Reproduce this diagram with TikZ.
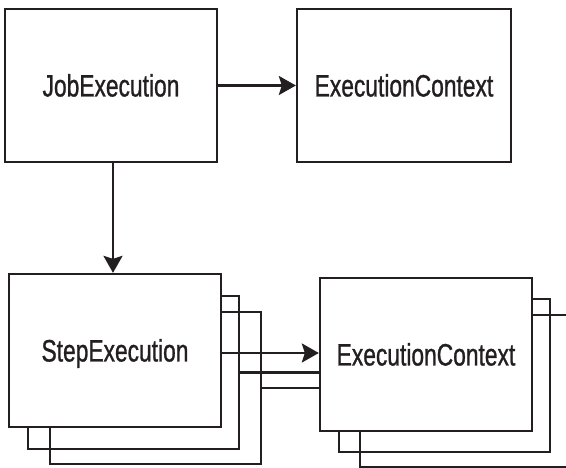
\documentclass[tikz,border=0pt]{standalone}
\usepackage{fontspec}
\setmainfont{Liberation Sans}[FakeStretch=0.735, FakeBold=0.9]
\usetikzlibrary{arrows.meta}
\definecolor{ink}{HTML}{231F20}
\tikzset{
  x=1pt, y=-1pt,
  box/.style={draw=ink, line width=2.3pt, fill=white, inner sep=0pt,
    text=ink, font=\fontsize{31}{35}\selectfont,
    text height=22pt, text depth=0pt, minimum height=153pt},
  backbox/.style={draw=ink, line width=2.3pt, inner sep=0pt, minimum height=153pt},
  link/.style={draw=ink, line width=2.3pt},
  arrow/.style={link, -{Stealth[length=17pt, width=19pt, inset=3pt]}}
}
\begin{document}
\begin{tikzpicture}
\useasboundingbox (0,0) rectangle (566,468);
\clip (0,0) rectangle (566,468);

% job level
\node[box, minimum width=212pt] (job) at (111,85.5) {JobExecution};
\node[box, minimum width=214pt] (ctxtop) at (404,85.5) {ExecutionContext};

% stacked step executions (back copies first, front copy covers them)
\node[backbox, minimum width=211pt, minimum height=152pt] (stepC) at (155.5,388) {};
\node[backbox, minimum width=211pt] (stepB) at (133.5,372.5) {};
\node[box, minimum width=212pt] (stepA) at (115,350.5) {StepExecution};

% stacked step contexts
\node[backbox, minimum width=211pt, minimum height=152pt] (ctxC) at (465.5,391) {};
\node[backbox, minimum width=211pt] (ctxB) at (444.5,375.5) {};
\node[box, minimum width=212pt] (ctxA) at (426,354.5) {ExecutionContext};

% connectors
\draw[arrow] (job.east) -- (job.east -| ctxtop.west);
\draw[arrow] ([xshift=2pt]job.south) -- ([xshift=2pt]job.south |- stepA.north);
\draw[arrow] ([yshift=-2.5pt]stepA.east) -- ([yshift=-2.5pt]stepA.east -| ctxA.west);
\draw[link] (stepB.east) -- (stepB.east -| ctxA.west);
\draw[link] (stepC.east) -- (stepC.east -| ctxA.west);
\end{tikzpicture}
\end{document}
